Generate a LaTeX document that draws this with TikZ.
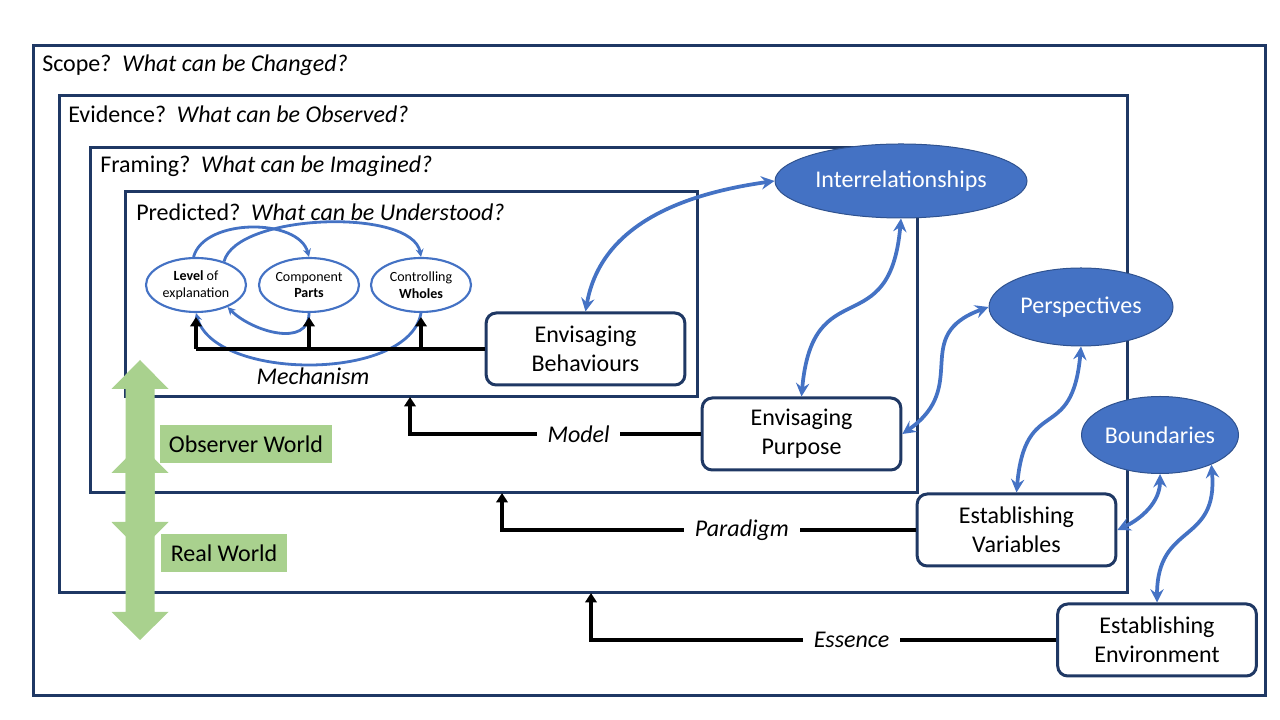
\documentclass[tikz,border=0pt]{standalone}
\usepackage{fontspec}
\setmainfont{Carlito}
\usetikzlibrary{arrows.meta,shapes.geometric}
\definecolor{navy}{RGB}{31,56,100}
\definecolor{pblue}{RGB}{68,114,196}
\definecolor{eblue}{RGB}{47,82,143}
\definecolor{pgreen}{RGB}{169,209,142}

\begin{document}
\begin{tikzpicture}[x=0.75pt,y=0.75pt,
  frm/.style={draw=navy,line width=2.25pt},
  ttl/.style={anchor=west,inner sep=0pt,font=\fontsize{18}{22}\selectfont},
  envbox/.style={draw=navy,line width=2.25pt,rounded corners=7.5pt,fill=white,minimum width=149pt,minimum height=54pt,align=center,font=\fontsize{18}{22}\selectfont},
  bigell/.style={ellipse,draw=eblue,line width=0.75pt,fill=pblue,text=white,inner sep=0pt,font=\fontsize{18}{22}\selectfont},
  smallell/.style={ellipse,draw=pblue,line width=1.6pt,minimum width=75pt,minimum height=40.5pt,inner sep=0pt,align=center,font=\fontsize{10.5}{12.5}\selectfont},
  cyc/.style={draw=pblue,line width=2.1pt,-{Stealth[length=6pt,width=6pt,inset=2pt]}},
  link/.style={draw=pblue,line width=2.8pt,{Stealth[length=10pt,width=10pt,inset=3.5pt]}-{Stealth[length=10pt,width=10pt,inset=3.5pt]}},
  blk/.style={draw=black,line width=2.6pt},
  blkarr/.style={blk,-{Triangle[length=7pt,width=8.5pt]}},
  lbl/.style={fill=white,inner xsep=8pt,inner ysep=2pt,font=\fontsize{18}{22}\selectfont\itshape},
  world/.style={fill=pgreen,minimum height=28.5pt,inner xsep=7pt,font=\fontsize{18}{22}\selectfont}]
  \useasboundingbox (0,0) rectangle (1280,720);

  \draw[frm] (33,24) rectangle (1265,674);
  \draw[frm] (59,127) rectangle (1127,624);
  \draw[frm] (90,227) rectangle (917,572);
  \draw[frm] (125,323) rectangle (697,528);
  \node[ttl] (tscope) at (42,655) {Scope?\ \ \textit{What can be Changed?}};
  \node[ttl] (tevid) at (68,606) {Evidence?\ \ \textit{What can be Observed?}};
  \node[ttl] (tframe) at (100,554) {Framing?\ \ \textit{What can be Imagined?}};
  \node[ttl] (tpred) at (136,508) {Predicted?\ \ \textit{What can be Understood?}};

  \node[smallell] (lev) at (196,435) {\textbf{Level} of\\explanation};
  \node[smallell] (comp) at (309,435) {Component\\\textbf{Parts}};
  \node[smallell] (ctrl) at (421,435) {Controlling\\\textbf{Wholes}};
  \draw[cyc] (lev.95) to[out=75,in=105,looseness=0.9] (comp.north);
  \draw[cyc] (lev.40) to[out=75,in=100,looseness=0.65] (ctrl.north);
  \draw[cyc] (comp.south) to[out=-90,in=-45,looseness=1.1] (lev.-35);
  \draw[cyc] (ctrl.south) to[out=-100,in=-75,looseness=0.8] (lev.south);

  \node[envbox] (beh) at (585.5,371) {Envisaging\\Behaviours};
  \node[envbox] (purp) at (801.5,286) {Envisaging\\Purpose};
  \node[envbox] (var) at (1016.5,190) {Establishing\\Variables};
  \node[envbox] (env) at (1157,80) {Establishing\\Environment};

  \coordinate (jl) at (lev.south |- beh.west);
  \coordinate (jc) at (comp.south |- beh.west);
  \coordinate (jw) at (ctrl.south |- beh.west);
  \draw[blk] (beh.west) -- (jl);
  \draw[blkarr,shorten >=3pt] (jl) -- (lev.south);
  \draw[blkarr,shorten >=3pt] (jc) -- (comp.south);
  \draw[blkarr,shorten >=3pt] (jw) -- (ctrl.south);
  \node[font=\fontsize{18}{22}\selectfont\itshape] (mech) at (313,344) {Mechanism};

  \coordinate (mdl) at (410,323);
  \coordinate (pdg) at (502,227);
  \coordinate (ess) at (591,127);
  \draw[blkarr] (purp.west) -| node[lbl,pos=0.21] {Model} (mdl);
  \draw[blkarr] (var.west) -| node[lbl,pos=0.21] {Paradigm} (pdg);
  \draw[blkarr] (env.west) -| node[lbl,pos=0.22] {Essence} (ess);

  \node[bigell,minimum width=189pt,minimum height=55.5pt] (inter) at (901,539) {Interrelationships};
  \node[bigell,minimum width=138pt,minimum height=58.5pt] (persp) at (1081,413) {Perspectives};
  \node[bigell,minimum width=117.75pt,minimum height=57.75pt] (bound) at (1160,285) {Boundaries};

  \draw[link] (beh.north) to[out=80,in=188] (inter.west);
  \draw[link] (inter.south) to[out=-95,in=85,looseness=1.6] (purp.north);
  \draw[link] (purp.east) to[out=35,in=200,looseness=1.4] (persp.west);
  \draw[link] (persp.south) to[out=-95,in=85,looseness=1.6] (var.north);
  \draw[link] (bound.south) to[out=-90,in=25] (var.east);
  \draw[link] (bound.-30) to[out=-85,in=90,looseness=1.4] (env.north);

  \fill[pgreen] (140,360) -- (168.5,331) -- (154.5,331) -- (154.5,198) -- (168.5,198) -- (140,169) -- (111.5,198) -- (125.5,198) -- (125.5,331) -- (111.5,331) -- cycle;
  \fill[pgreen] (140,276) -- (168.5,247) -- (154.5,247) -- (154.5,108) -- (168.5,108) -- (140,80) -- (111.5,108) -- (125.5,108) -- (125.5,247) -- (111.5,247) -- cycle;
  \node[world] (obs) at (246,276) {Observer World};
  \node[world] (real) at (224,167) {Real World};
\end{tikzpicture}
\end{document}
